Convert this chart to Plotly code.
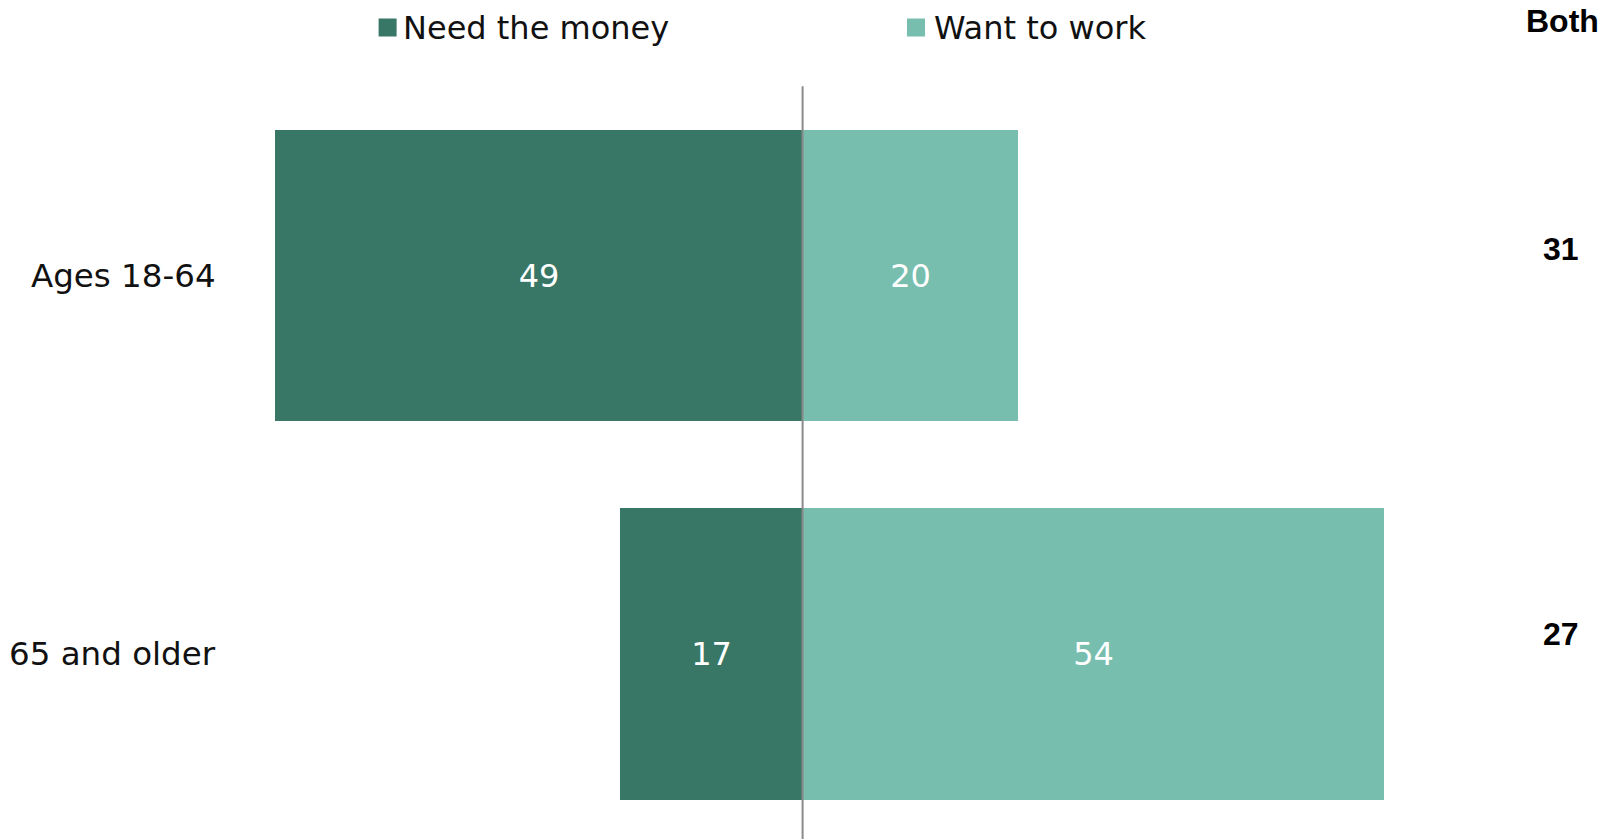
import plotly.graph_objects as go

# Reasons for working, by age group (percent)
categories = ["Ages 18-64", "65 and older"]
need_money = [49, 17]
want_work = [20, 54]
both = [31, 27]
series_names = ["Need the money", "Want to work"]
both_title = "Both"

DARK = "#387766"
LIGHT = "#77BEAF"
W, H = 1613, 839
PX_PER_UNIT = 10.77
ZERO_PX = 802.6
ROW_PX = 378.6
ROW0_PX = 275.5

ypos = list(range(len(categories)))
label_font = dict(family="DejaVu Sans, Verdana, sans-serif", size=32.5, color="#111111")
bar_text_font = dict(family="DejaVu Sans, Verdana, sans-serif", size=32, color="white")

fig = go.Figure()
fig.add_trace(go.Bar(
    y=ypos, x=[-v for v in need_money], orientation="h",
    marker=dict(color=DARK, line=dict(width=0)), width=0.77,
    text=[str(v) for v in need_money], textposition="inside",
    insidetextanchor="middle", constraintext="none",
    textfont=bar_text_font, name=series_names[0], hoverinfo="skip",
))
fig.add_trace(go.Bar(
    y=ypos, x=want_work, orientation="h",
    marker=dict(color=LIGHT, line=dict(width=0)), width=0.77,
    text=[str(v) for v in want_work], textposition="inside",
    insidetextanchor="middle", constraintext="none",
    textfont=bar_text_font, name=series_names[1], hoverinfo="skip",
))

x_lo = -ZERO_PX / PX_PER_UNIT
x_hi = (W - ZERO_PX) / PX_PER_UNIT
y_top = -ROW0_PX / ROW_PX
y_bot = (H - ROW0_PX) / ROW_PX

# vertical zero line
fig.add_shape(type="line", xref="x", yref="y", x0=0, x1=0, y0=-0.5, y1=y_bot,
              line=dict(color="#8a8a8a", width=2), layer="above")

annotations = []
# category labels
for i, cat in enumerate(categories):
    annotations.append(dict(
        x=218 / W, xref="paper", y=i, yref="y", text=cat, showarrow=False,
        xanchor="right", yanchor="middle", font=label_font,
    ))

# "Both" column
both_font = dict(family="Liberation Sans, Arial, sans-serif", size=32, color="black")
annotations.append(dict(
    x=1562 / W, xref="paper", y=1 - 20.6 / H, yref="paper", text=f"<b>{both_title}</b>",
    showarrow=False, xanchor="center", yanchor="middle", font=both_font,
))
both_y_px = [249, 634]
for v, ypx in zip(both, both_y_px):
    annotations.append(dict(
        x=1560.5 / W, xref="paper", y=1 - ypx / H, yref="paper", text=f"<b>{v}</b>",
        showarrow=False, xanchor="center", yanchor="middle", font=both_font,
    ))

# legend swatches and labels
legend_items = [(series_names[0], DARK, 378.6, 401), (series_names[1], LIGHT, 907, 932)]
for name, color, sx, tx in legend_items:
    fig.add_shape(type="rect", xref="paper", yref="paper",
                  x0=sx / W, x1=(sx + 18) / W, y0=1 - 36.5 / H, y1=1 - 18.5 / H,
                  fillcolor=color, line=dict(width=0))
    annotations.append(dict(
        x=tx / W, xref="paper", y=1 - 27.8 / H, yref="paper", text=name,
        showarrow=False, xanchor="left", yanchor="middle",
        font=dict(family="DejaVu Sans, Verdana, sans-serif", size=32, color="#111111"),
    ))

fig.update_layout(
    width=W, height=H, autosize=False,
    margin=dict(l=0, r=0, t=0, b=0, pad=0),
    paper_bgcolor="white", plot_bgcolor="white",
    barmode="relative", bargap=0, showlegend=False,
    xaxis=dict(range=[x_lo, x_hi], visible=False, fixedrange=True),
    yaxis=dict(range=[y_bot, y_top], visible=False, fixedrange=True),
    annotations=annotations,
)

fig.write_html("out.html")
